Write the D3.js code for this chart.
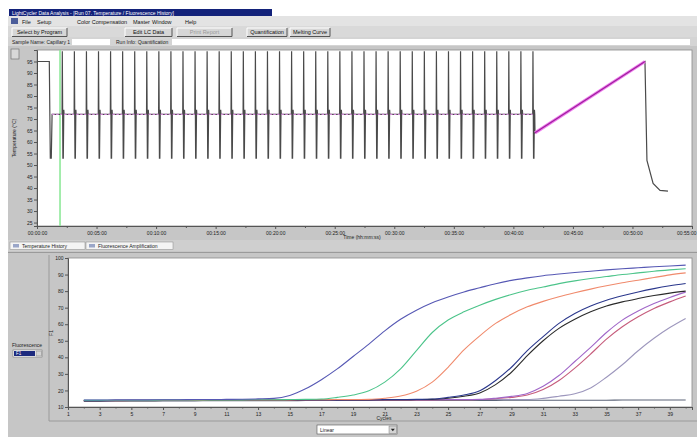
<!DOCTYPE html>
<html>
<head>
<meta charset="utf-8">
<script src="https://cdn.jsdelivr.net/npm/d3@7"></script>
<style>
  html, body { margin: 0; padding: 0; background: #fff; }
  svg { display: block; font-family: "Liberation Sans", Arial, sans-serif; }
</style>
</head>
<body>
<svg id="win" width="697" height="437"></svg>
<script>
// ---------- Temperature history: run program (seconds, °C) ----------
const startTimes = [0, 2, 62, 67, 72, 76, 126.3];
const startTemps = [75, 95, 95, 53, 53, 72, 72];
const cycleCount = 40;
const firstPeakTime = 127.5;
const cyclePeriod = 60.8;
const cycleStepOffsets = [0, 3, 5, 7.5, 9, 59.6];
const cycleStepTemps = [99.5, 53, 53, 74, 72, 72];
const acquireFrom = 9;        // offset where the 72 °C acquisition hold starts
const acquireTo = 59.6;       // offset where it ends
const meltTimes = [2509, 3063, 3073, 3104, 3139, 3179];
const meltTemps = [64, 95, 52, 42, 39, 38.7];
const cursorTime = 116;

const tempTicks = [25, 30, 35, 40, 45, 50, 55, 60, 65, 70, 75, 80, 85, 90, 95];
const timeTicks = [0, 300, 600, 900, 1200, 1500, 1800, 2100, 2400, 2700, 3000, 3300];
const timeLabels = ["00:00:00", "00:05:00", "00:10:00", "00:15:00", "00:20:00", "00:25:00",
                    "00:30:00", "00:35:00", "00:40:00", "00:45:00", "00:50:00", "00:55:00"];
const timeMinorTicks = [150, 450, 750, 1050, 1350, 1650, 1950, 2250, 2550, 2850, 3150];

// ---------- Fluorescence history: amplification curves ----------
const cycles = [2, 3, 4, 5, 6, 7, 8, 9, 10, 11, 12, 13, 14, 15, 16, 17, 18, 19, 20, 21,
                22, 23, 24, 25, 26, 27, 28, 29, 30, 31, 32, 33, 34, 35, 36, 37, 38, 39, 40];
const sampleA = [14.2, 14.2, 14.3, 14.3, 14.3, 14.4, 14.4, 14.5, 14.5, 14.6, 14.7, 14.9,
                 15.2, 17, 21, 26.5, 33, 40.5, 48, 56, 63, 68.5, 73, 76.5, 79.5, 82, 84.5,
                 86.5, 88, 89.3, 90.3, 91.2, 92, 92.8, 93.5, 94.1, 94.7, 95.2, 95.7];
const sampleB = [14.0, 14.0, 14.1, 14.1, 14.1, 14.2, 14.2, 14.2, 14.3, 14.3, 14.3, 14.4,
                 14.4, 14.5, 14.6, 14.8, 15.8, 17.2, 19.8, 25, 33, 44, 55, 62.5, 67.5, 71.5,
                 75, 78, 80.5, 82.5, 84.5, 86.2, 87.6, 88.8, 90, 91, 92, 92.8, 93.5];
const sampleC = [13.9, 13.9, 14.0, 14.0, 14.0, 14.1, 14.1, 14.1, 14.2, 14.2, 14.2, 14.3,
                 14.3, 14.3, 14.4, 14.4, 14.5, 14.5, 14.6, 15.3, 16.6, 19.5, 25, 34, 44.5,
                 53, 60.5, 66, 70.5, 73.8, 76.6, 79, 81.2, 83.2, 85, 86.6, 88.2, 89.8, 91];
const sampleD1 = [13.8, 13.8, 13.9, 13.9, 13.9, 14.0, 14.0, 14.0, 14.1, 14.1, 14.1, 14.2,
                  14.2, 14.2, 14.3, 14.3, 14.3, 14.4, 14.4, 14.5, 14.5, 14.6, 14.8, 15.8,
                  17.2, 19.8, 26, 34, 44, 52.5, 60.5, 66.5, 71, 74.5, 77.2, 79.5, 81.5, 83.2, 84.6];
const sampleD2 = [13.7, 13.7, 13.8, 13.8, 13.8, 13.9, 13.9, 13.9, 14.0, 14.0, 14.0, 14.1,
                  14.1, 14.1, 14.2, 14.2, 14.2, 14.3, 14.3, 14.4, 14.4, 14.5, 14.6, 15.3,
                  16.5, 18.5, 23.5, 31, 41, 50, 57.5, 63, 67.5, 71, 73.5, 75.5, 77.3, 78.8, 80];
const sampleE1 = [13.9, 13.9, 13.9, 14.0, 14.0, 14.0, 14.0, 14.1, 14.1, 14.1, 14.1, 14.2,
                  14.2, 14.2, 14.2, 14.3, 14.3, 14.3, 14.3, 14.4, 14.4, 14.4, 14.4, 14.5,
                  14.5, 14.6, 15.3, 16.4, 18.2, 22.5, 29, 37.5, 46, 55, 62.5, 68, 72.5, 76.2, 79.4];
const sampleE2 = [13.8, 13.8, 13.8, 13.9, 13.9, 13.9, 13.9, 14.0, 14.0, 14.0, 14.0, 14.1,
                  14.1, 14.1, 14.1, 14.2, 14.2, 14.2, 14.2, 14.3, 14.3, 14.3, 14.3, 14.4,
                  14.4, 14.5, 15.0, 15.8, 17.2, 20.5, 26, 33.5, 42, 51, 58.5, 64.5, 69.5, 73.5, 77];
const sampleF = [14.0, 14.0, 14.0, 14.0, 14.1, 14.1, 14.1, 14.1, 14.1, 14.2, 14.2, 14.2,
                 14.2, 14.2, 14.3, 14.3, 14.3, 14.3, 14.3, 14.4, 14.4, 14.4, 14.4, 14.4,
                 14.4, 14.5, 14.5, 14.5, 14.5, 15.2, 16.5, 18, 21.5, 28, 35.5, 44, 51.5, 58, 63.5];
const sampleNeg = [13.6, 13.6, 13.6, 13.7, 13.7, 13.7, 13.7, 13.7, 13.8, 13.8, 13.8, 13.8,
                   13.8, 13.8, 13.9, 13.9, 13.9, 13.9, 13.9, 13.9, 14.0, 14.0, 14.0, 14.0,
                   14.0, 14.0, 14.0, 14.1, 14.1, 14.1, 14.1, 14.1, 14.1, 14.1, 14.2, 14.2, 14.2, 14.2, 14.2];
const samples = [sampleNeg, sampleF, sampleE2, sampleE1, sampleD2, sampleD1, sampleC, sampleB, sampleA];
const sampleColors = ["#5c6478", "#9d97bd", "#c65c7c", "#a066c8", "#2a2a2a", "#2a378c",
                      "#f08a6c", "#4cc48a", "#5658b4"];

const cycleTicks = [1, 3, 5, 7, 9, 11, 13, 15, 17, 19, 21, 23, 25, 27, 29, 31, 33, 35, 37, 39];
const cycleMinorTicks = [2, 4, 6, 8, 10, 12, 14, 16, 18, 20, 22, 24, 26, 28, 30, 32, 34, 36, 38, 40];
const fluorTicks = [10, 20, 30, 40, 50, 60, 70, 80, 90, 100];

// ---------- window chrome ----------
const svg = d3.select("#win");
const GRAY = "#c6c6c6";
const FS = 5.5;

svg.append("rect").attr("width", 697).attr("height", 437).attr("fill", "#fff");
svg.append("rect").attr("x", 8).attr("y", 16).attr("width", 689).attr("height", 421).attr("fill", GRAY);

// title bar
svg.append("rect").attr("x", 9).attr("y", 9).attr("width", 263).attr("height", 7).attr("fill", "#13227a");
svg.append("text").attr("x", 12).attr("y", 14.6).attr("font-size", 5).attr("fill", "#fff")
  .text("LightCycler Data Analysis - [Run 07.  Temperature / Fluorescence History]");

// menu bar
svg.append("rect").attr("x", 8).attr("y", 16).attr("width", 689).attr("height", 10).attr("fill", "#e3e3e3");
svg.append("rect").attr("x", 11).attr("y", 18).attr("width", 7).attr("height", 6).attr("fill", "#4b5d9a");
[["File", 22], ["Setup", 37], ["Color Compensation", 77], ["Master", 133], ["Window", 152], ["Help", 185]]
  .forEach(([t, x]) => svg.append("text").attr("x", x).attr("y", 23.5).attr("font-size", FS).attr("fill", "#111").text(t));

// tool buttons
svg.append("rect").attr("x", 8).attr("y", 26).attr("width", 689).attr("height", 11).attr("fill", "#d9d9d9");
function button(x, y, w, h, label, disabled) {
  const g = svg.append("g");
  g.append("rect").attr("x", x).attr("y", y).attr("width", w).attr("height", h).attr("fill", "#d6d6d6");
  g.append("path").attr("d", `M${x},${y + h}V${y}H${x + w}`).attr("stroke", "#fff").attr("fill", "none");
  g.append("path").attr("d", `M${x},${y + h}H${x + w}V${y}`).attr("stroke", "#555").attr("fill", "none");
  g.append("text").attr("x", x + w / 2).attr("y", y + h / 2 + 2).attr("text-anchor", "middle")
    .attr("font-size", FS).attr("fill", disabled ? "#9a9a9a" : "#111").text(label);
}
button(12, 28, 55, 8.5, "Select by Program");
button(125, 28, 47, 8.5, "Edit LC Data");
button(177, 28, 55, 8.5, "Print Report", true);
button(247, 28, 40, 8.5, "Quantification");
button(290, 28, 40, 8.5, "Melting Curve");

// info row
svg.append("rect").attr("x", 8).attr("y", 37).attr("width", 689).attr("height", 9).attr("fill", "#d4d4d4");
svg.append("text").attr("x", 12).attr("y", 43.8).attr("font-size", 5).attr("fill", "#222").text("Sample Name: Capillary 1");
svg.append("rect").attr("x", 72).attr("y", 39).attr("width", 38).attr("height", 6).attr("fill", "#fff");
svg.append("text").attr("x", 116).attr("y", 43.8).attr("font-size", 5).attr("fill", "#222").text("Run Info: Quantification");
svg.append("rect").attr("x", 172).attr("y", 39).attr("width", 518).attr("height", 6).attr("fill", "#fff");

// ---------- temperature history panel ----------
const T = { left: 37, right: 692, top: 50, bottom: 226 };
svg.append("rect").attr("x", 8).attr("y", 46).attr("width", 689).attr("height", 194).attr("fill", GRAY);
svg.append("rect").attr("x", 11).attr("y", 49).attr("width", 8).attr("height", 10).attr("fill", "#d8d8d8")
  .attr("stroke", "#666").attr("stroke-width", 0.6);
svg.append("rect").attr("x", T.left).attr("y", T.top).attr("width", T.right - T.left).attr("height", T.bottom - T.top)
  .attr("fill", "#fff").attr("stroke", "#8a8a8a").attr("stroke-width", 0.8);

const xT = d3.scaleLinear().domain([0, 3300]).range([T.left, T.right]);
const yT = d3.scaleLinear().domain([23.5, 100]).range([T.bottom, T.top]);

svg.append("g").attr("transform", `translate(${T.left},0)`)
  .call(d3.axisLeft(yT).tickValues(tempTicks).tickSize(3).tickPadding(1.5));
const gxT = svg.append("g").attr("transform", `translate(0,${T.bottom})`)
  .call(d3.axisBottom(xT).tickValues(timeTicks).tickFormat((d, i) => timeLabels[i]).tickSize(3).tickPadding(2));
// last time label sits flush with the right border
gxT.selectAll(".tick text").filter((d, i) => i === timeTicks.length - 1).attr("text-anchor", "end").attr("dx", 4);
svg.append("g").attr("transform", `translate(0,${T.bottom})`)
  .call(d3.axisBottom(xT).tickValues(timeMinorTicks).tickFormat("").tickSize(2));
svg.selectAll(".domain").attr("stroke", "#555");
svg.selectAll(".tick line").attr("stroke", "#555");
svg.selectAll(".tick text").attr("font-size", 5).attr("fill", "#222").attr("font-family", "Liberation Sans, Arial, sans-serif");

svg.append("text").attr("transform", `translate(16,${(T.top + T.bottom) / 2}) rotate(-90)`)
  .attr("text-anchor", "middle").attr("font-size", 5).attr("fill", "#222").text("Temperature (°C)");
svg.append("text").attr("x", 362).attr("y", 239).attr("text-anchor", "middle")
  .attr("font-size", 5).attr("fill", "#222").text("Time (hh:mm:ss)");

// build the temperature trace from the run program
const trace = [];
startTimes.forEach((t, i) => trace.push([t, startTemps[i]]));
const holds = [[startTimes[5], startTimes[6]]];
for (let c = 0; c < cycleCount; c++) {
  const t0 = firstPeakTime + c * cyclePeriod;
  cycleStepOffsets.forEach((o, i) => {
    if (t0 + o < meltTimes[0]) trace.push([t0 + o, cycleStepTemps[i]]);
  });
  if (t0 + acquireTo < meltTimes[0]) holds.push([t0 + acquireFrom, t0 + acquireTo]);
}
meltTimes.forEach((t, i) => trace.push([t, meltTemps[i]]));

const plotT = svg.append("g");
plotT.append("clipPath").attr("id", "clipT").append("rect")
  .attr("x", T.left).attr("y", T.top).attr("width", T.right - T.left).attr("height", T.bottom - T.top);
plotT.attr("clip-path", "url(#clipT)");

// cursor
plotT.append("line").attr("x1", xT(cursorTime)).attr("x2", xT(cursorTime))
  .attr("y1", T.top).attr("y2", T.bottom).attr("stroke", "#8ee89a").attr("stroke-width", 1.6);

const lineT = d3.line().x(d => xT(d[0])).y(d => yT(d[1]));
plotT.append("path").datum(trace).attr("d", lineT).attr("fill", "none")
  .attr("stroke", "#4a4a4a").attr("stroke-width", 1.2);

// acquisition holds (72 °C) and continuous melt acquisition
plotT.selectAll(".hold").data(holds).enter().append("line").attr("class", "hold")
  .attr("x1", d => xT(d[0])).attr("x2", d => xT(d[1]))
  .attr("y1", yT(72)).attr("y2", yT(72))
  .attr("stroke", "#d28ad8").attr("stroke-width", 1.1).attr("stroke-dasharray", "2.5,1.5");
const meltSeg = [[meltTimes[0], meltTemps[0]], [meltTimes[1], meltTemps[1]]];
plotT.append("path").datum(meltSeg).attr("d", lineT).attr("fill", "none")
  .attr("stroke", "#ee7cee").attr("stroke-width", 3.2);
plotT.append("path").datum(meltSeg).attr("d", lineT).attr("fill", "none")
  .attr("stroke", "#a0209e").attr("stroke-width", 1.3);

// ---------- tabs ----------
svg.append("rect").attr("x", 8).attr("y", 240).attr("width", 689).attr("height", 11).attr("fill", "#cfcfcf");
function tab(x, w, label) {
  svg.append("rect").attr("x", x).attr("y", 242).attr("width", w).attr("height", 7.5).attr("fill", "#f4f4f4")
    .attr("stroke", "#888").attr("stroke-width", 0.5);
  svg.append("rect").attr("x", x + 3).attr("y", 244).attr("width", 6).attr("height", 3.5).attr("fill", "#9aa6c8");
  svg.append("text").attr("x", x + 12).attr("y", 247.8).attr("font-size", 5).attr("fill", "#222").text(label);
}
tab(10, 75, "Temperature History");
tab(86, 87, "Fluorescence Amplification");

// ---------- fluorescence history panel ----------
const F = { left: 68, right: 692, top: 258, bottom: 407 };
svg.append("rect").attr("x", 8).attr("y", 251).attr("width", 689).attr("height", 186).attr("fill", GRAY);
svg.append("line").attr("x1", 8).attr("x2", 697).attr("y1", 252.5).attr("y2", 252.5).attr("stroke", "#9a9a9a");
svg.append("line").attr("x1", 49).attr("x2", 49).attr("y1", 255).attr("y2", 421).attr("stroke", "#9a9a9a");
svg.append("line").attr("x1", 49).attr("x2", 697).attr("y1", 421).attr("y2", 421).attr("stroke", "#9a9a9a");
svg.append("rect").attr("x", F.left).attr("y", F.top).attr("width", F.right - F.left).attr("height", F.bottom - F.top)
  .attr("fill", "#fff").attr("stroke", "#8a8a8a").attr("stroke-width", 0.8);

const xF = d3.scaleLinear().domain([1, 40.4]).range([F.left, F.right]);
const yF = d3.scaleLinear().domain([10, 100]).range([F.bottom, F.top]);

svg.append("g").attr("transform", `translate(${F.left},0)`)
  .call(d3.axisLeft(yF).tickValues(fluorTicks).tickSize(3).tickPadding(1.5));
svg.append("g").attr("transform", `translate(0,${F.bottom})`)
  .call(d3.axisBottom(xF).tickValues(cycleTicks).tickSize(3).tickPadding(2));
svg.append("g").attr("transform", `translate(0,${F.bottom})`)
  .call(d3.axisBottom(xF).tickValues(cycleMinorTicks).tickFormat("").tickSize(1.5));
svg.selectAll(".domain").attr("stroke", "#555");
svg.selectAll(".tick line").attr("stroke", "#555");
svg.selectAll(".tick text").attr("font-size", 5).attr("fill", "#222").attr("font-family", "Liberation Sans, Arial, sans-serif");

svg.append("text").attr("transform", "translate(53,333) rotate(-90)").attr("text-anchor", "middle")
  .attr("font-size", 5).attr("fill", "#222").text("F1");
svg.append("text").attr("x", 384).attr("y", 420).attr("text-anchor", "middle")
  .attr("font-size", 5).attr("fill", "#222").text("Cycles");

// channel selector
svg.append("text").attr("x", 12).attr("y", 347).attr("font-size", 5).attr("fill", "#222").text("Fluorescence");
svg.append("rect").attr("x", 13).attr("y", 350).attr("width", 29).attr("height", 7).attr("fill", "#fff")
  .attr("stroke", "#666").attr("stroke-width", 0.5);
svg.append("rect").attr("x", 14).attr("y", 351).attr("width", 21).attr("height", 5).attr("fill", "#1d2a7e");
svg.append("text").attr("x", 16).attr("y", 355.3).attr("font-size", 4.5).attr("fill", "#fff").text("F1");
svg.append("rect").attr("x", 36).attr("y", 351).attr("width", 5.5).attr("height", 5).attr("fill", "#d4d4d4")
  .attr("stroke", "#666").attr("stroke-width", 0.4);

// scale selector
svg.append("rect").attr("x", 317).attr("y", 425).attr("width", 80).attr("height", 9).attr("fill", "#fff")
  .attr("stroke", "#555").attr("stroke-width", 0.6);
svg.append("text").attr("x", 320).attr("y", 431.5).attr("font-size", 5).attr("fill", "#222").text("Linear");
svg.append("rect").attr("x", 389).attr("y", 426).attr("width", 7.5).attr("height", 7.5).attr("fill", "#d4d4d4")
  .attr("stroke", "#666").attr("stroke-width", 0.4);
svg.append("path").attr("d", "M390.8,428.8h4l-2,2.4z").attr("fill", "#222");

// amplification curves
const plotF = svg.append("g");
plotF.append("clipPath").attr("id", "clipF").append("rect")
  .attr("x", F.left).attr("y", F.top).attr("width", F.right - F.left).attr("height", F.bottom - F.top);
plotF.attr("clip-path", "url(#clipF)");
const lineF = d3.line().x((d, i) => xF(cycles[i])).y(d => yF(d)).curve(d3.curveMonotoneX);
plotF.selectAll(".curve").data(samples).enter().append("path").attr("class", "curve")
  .attr("d", lineF).attr("fill", "none")
  .attr("stroke", (d, i) => sampleColors[i]).attr("stroke-width", 1.1);
</script>
</body>
</html>
